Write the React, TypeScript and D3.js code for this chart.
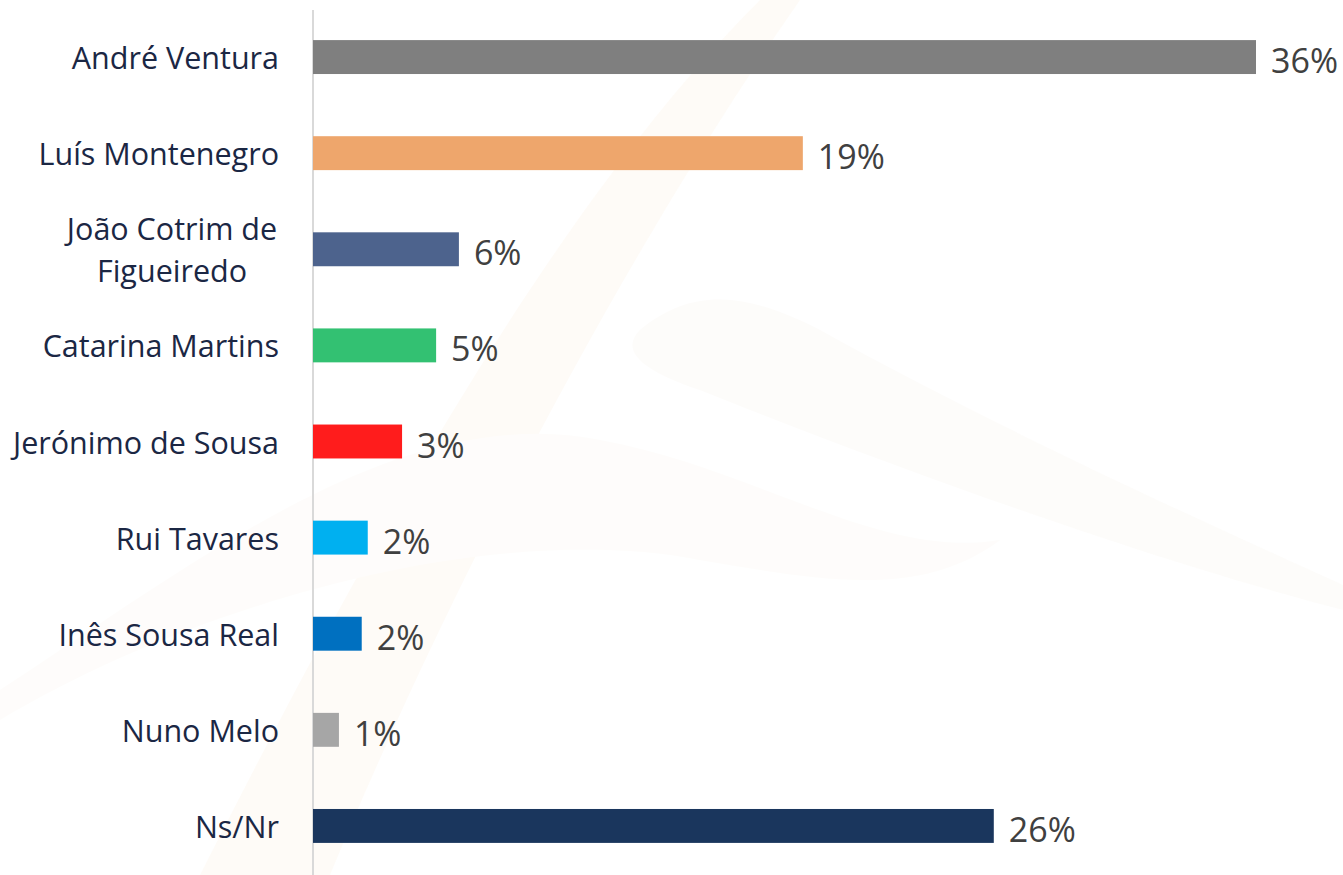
import React from "react";
import * as d3 from "d3";

const categories = [
  "André Ventura",
  "Luís Montenegro",
  "João Cotrim de|Figueiredo",
  "Catarina Martins",
  "Jerónimo de Sousa",
  "Rui Tavares",
  "Inês Sousa Real",
  "Nuno Melo",
  "Ns/Nr",
];
const values = [36.0, 18.7, 5.57, 4.7, 3.4, 2.09, 1.86, 0.99, 25.99];
const valueLabels = ["36%", "19%", "6%", "5%", "3%", "2%", "2%", "1%", "26%"];
const colors = [
  "#7f7f7f",
  "#eea66c",
  "#4d638d",
  "#33c172",
  "#ff1c1c",
  "#00b0f0",
  "#0070c0",
  "#a6a6a6",
  "#1a365d",
];

const W = 1343;
const H = 875;
const X0 = 313;
const FONT = "'Open Sans', 'Noto Sans', sans-serif";

export default function App() {
  const x = d3.scaleLinear().domain([0, 36]).range([X0, 1256]);
  const y = d3
    .scaleBand<string>()
    .domain(categories)
    .range([9, 874])
    .paddingInner(0.647)
    .paddingOuter(0.3235);

  return (
    <svg
      width={W}
      height={H}
      style={{ position: "absolute", left: 0, top: 0, background: "#fff" }}
    >
      <g opacity={0.3}>
        <path
          d="M200,875 C380,520 560,200 760,0 L800,0 C640,230 460,560 330,875 Z"
          fill="#fdf3e6"
        />
        <path
          d="M640,330 C700,280 760,300 820,330 C1000,430 1200,520 1343,585 L1343,610 C1150,560 900,470 700,390 C640,370 620,350 640,330 Z"
          fill="#faf6f0"
        />
        <path
          d="M0,720 C200,600 500,520 700,560 C820,580 920,600 1000,540 C880,560 760,470 600,440 C400,400 200,560 0,690 Z"
          fill="#fcf8f2"
        />
      </g>
      <line x1={X0} x2={X0} y1={10} y2={875} stroke="#d9d9d9" strokeWidth={2} />
      {categories.map((c, i) => {
        const y0 = y(c)!;
        const bw = y.bandwidth();
        const cy = y0 + bw / 2;
        const lines = c.split("|");
        return (
          <g key={c}>
            <rect x={x(0)} y={y0} width={x(values[i]) - x(0)} height={bw} fill={colors[i]} />
            {lines.length === 1 ? (
              <text
                x={279}
                y={cy}
                textAnchor="end"
                dominantBaseline="central"
                fontFamily={FONT}
                fontSize={30.5}
                fill="#1b2744"
              >
                {c}
              </text>
            ) : (
              lines.map((l, k) => (
                <text
                  key={k}
                  x={172}
                  y={cy + (k - (lines.length - 1) / 2) * 42}
                  textAnchor="middle"
                  dominantBaseline="central"
                  fontFamily={FONT}
                  fontSize={30.5}
                  fill="#1b2744"
                >
                  {l}
                </text>
              ))
            )}
            <text
              x={x(values[i]) + 15}
              y={cy + 3}
              dominantBaseline="central"
              fontFamily={FONT}
              fontSize={34}
              fill="#404040"
            >
              {valueLabels[i]}
            </text>
          </g>
        );
      })}
    </svg>
  );
}
